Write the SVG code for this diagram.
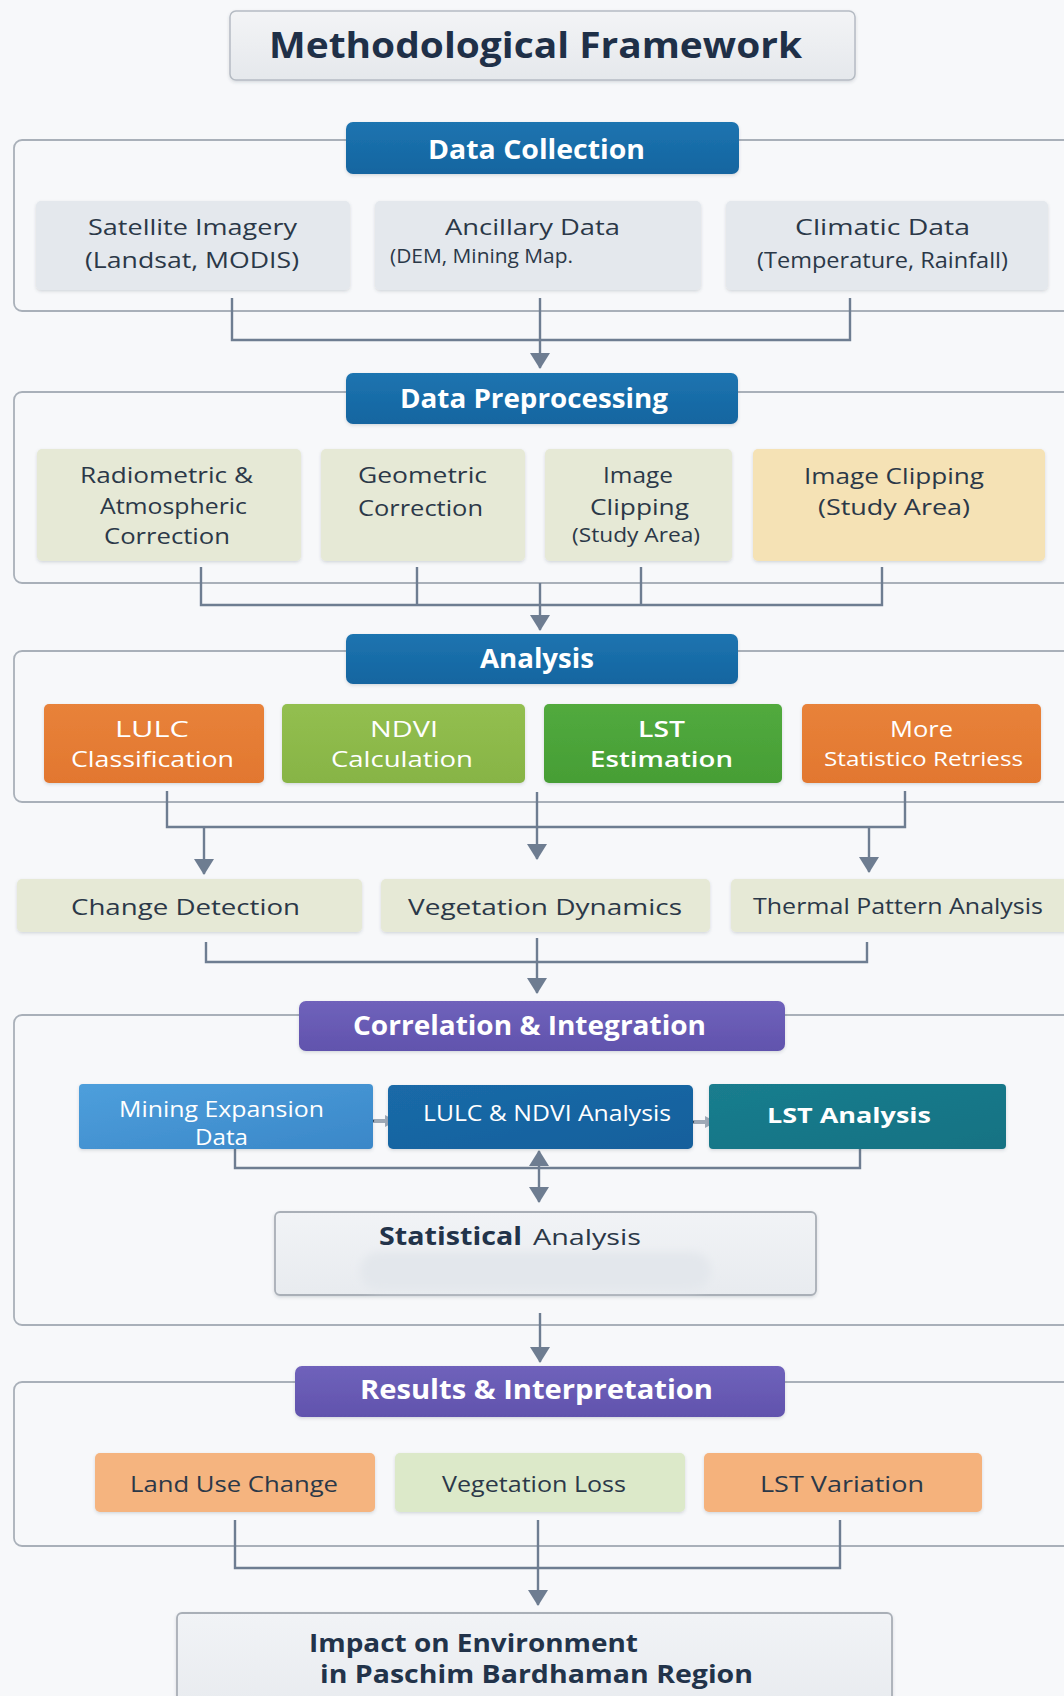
<svg xmlns="http://www.w3.org/2000/svg" width="1064" height="1696" viewBox="0 0 1064 1696">
  <defs>
    <style>
      text { font-family: "Open Sans", "Lato", "Liberation Sans", sans-serif; }
      .t-title { font-size: 36px; font-weight: 700; fill: #1f3048; }
      .t-head { font-size: 26px; font-weight: 700; fill: #ffffff; }
      .t-box { font-size: 22px; fill: #2b3848; }
      .t-small { font-size: 20px; fill: #2b3848; }
      .t-white { font-size: 22px; fill: #ffffff; }
      .t-white-s { font-size: 20px; fill: #ffffff; }
      .t-bold-dark { font-size: 25px; font-weight: 700; fill: #22334a; }
      .frame { fill: none; stroke: #a9b0b9; stroke-width: 1.8; }
      .wire { fill: none; stroke: #6e7d91; stroke-width: 2.4; }
      .gray { fill: #e4e8ed; }
      .olive { fill: #e6e9d6; }
      .tan { fill: #f5e2b5; }
      .blue-h { fill: url(#gBlue); }
      .purple-h { fill: url(#gPurple); }
      .node-shadow { filter: url(#shadow); }
    </style>
    <linearGradient id="gBlue" x1="0" y1="0" x2="0" y2="1">
      <stop offset="0" stop-color="#1d74b0"/>
      <stop offset="1" stop-color="#1465a0"/>
    </linearGradient>
    <linearGradient id="gPurple" x1="0" y1="0" x2="0" y2="1">
      <stop offset="0" stop-color="#6f62bb"/>
      <stop offset="1" stop-color="#6153ad"/>
    </linearGradient>
    <linearGradient id="gTitle" x1="0" y1="0" x2="0" y2="1">
      <stop offset="0" stop-color="#f3f4f6"/>
      <stop offset="1" stop-color="#e5e8ec"/>
    </linearGradient>
    <linearGradient id="gOrange" x1="0" y1="0" x2="0" y2="1">
      <stop offset="0" stop-color="#e8823a"/>
      <stop offset="1" stop-color="#e2772f"/>
    </linearGradient>
    <linearGradient id="gLime" x1="0" y1="0" x2="0" y2="1">
      <stop offset="0" stop-color="#93bf50"/>
      <stop offset="1" stop-color="#87b445"/>
    </linearGradient>
    <linearGradient id="gGreen" x1="0" y1="0" x2="0" y2="1">
      <stop offset="0" stop-color="#52aa3e"/>
      <stop offset="1" stop-color="#469e35"/>
    </linearGradient>
    <linearGradient id="gSky" x1="0" y1="0" x2="1" y2="1">
      <stop offset="0" stop-color="#4e9fdc"/>
      <stop offset="1" stop-color="#3a87c8"/>
    </linearGradient>
    <linearGradient id="gNavy" x1="0" y1="0" x2="1" y2="1">
      <stop offset="0" stop-color="#1a6aa8"/>
      <stop offset="1" stop-color="#16609c"/>
    </linearGradient>
    <linearGradient id="gTeal" x1="0" y1="0" x2="1" y2="1">
      <stop offset="0" stop-color="#1a7d8e"/>
      <stop offset="1" stop-color="#147283"/>
    </linearGradient>
    <linearGradient id="gPanel" x1="0" y1="0" x2="0" y2="1">
      <stop offset="0" stop-color="#f1f3f6"/>
      <stop offset="1" stop-color="#e8ebef"/>
    </linearGradient>
    <filter id="shadow" x="-10%" y="-20%" width="120%" height="150%">
      <feDropShadow dx="0" dy="1.5" stdDeviation="1.5" flood-color="#3a4656" flood-opacity="0.18"/>
    </filter>
    <filter id="soft" x="-10%" y="-50%" width="120%" height="200%">
      <feGaussianBlur stdDeviation="4"/>
    </filter>
    <marker id="arrow" markerUnits="userSpaceOnUse" markerWidth="16" markerHeight="20" viewBox="0 0 16 20" refX="15" refY="10" orient="auto">
      <path d="M0,0 L16,10 L0,20 z" fill="#6e7d91"/>
    </marker>
    <marker id="arrowStart" markerUnits="userSpaceOnUse" markerWidth="16" markerHeight="20" viewBox="0 0 16 20" refX="1" refY="10" orient="auto">
      <path d="M16,0 L0,10 L16,20 z" fill="#6e7d91"/>
    </marker>
    <marker id="tiny" markerUnits="userSpaceOnUse" markerWidth="11" markerHeight="12" viewBox="0 0 11 12" refX="10" refY="6" orient="auto">
      <path d="M0,0 L11,6 L0,12 z" fill="#9ea9b6"/>
    </marker>
  </defs>

  <rect x="0" y="0" width="1064" height="1696" fill="#f7f8fa"/>

  <!-- section frames -->
  <g id="frames">
    <rect class="frame" x="14" y="140" width="1070" height="171" rx="8"/>
    <rect class="frame" x="14" y="392" width="1070" height="191" rx="8"/>
    <rect class="frame" x="14" y="651" width="1070" height="151" rx="8"/>
    <rect class="frame" x="14" y="1015" width="1070" height="310" rx="8"/>
    <rect class="frame" x="14" y="1382" width="1070" height="164" rx="8"/>
  </g>

  <!-- connectors -->
  <g id="connectors">
    <path class="wire" d="M232,298 V340 H850 V298"/>
    <path class="wire" d="M540,298 V368" marker-end="url(#arrow)"/>

    <path class="wire" d="M201,567 V605 H882 V567 M417,567 V605 M641,567 V605"/>
    <path class="wire" d="M540,583 V630" marker-end="url(#arrow)"/>

    <path class="wire" d="M167,791 V827 H905 V791"/>
    <path class="wire" d="M204,827 V874" marker-end="url(#arrow)"/>
    <path class="wire" d="M869,827 V872" marker-end="url(#arrow)"/>
    <path class="wire" d="M537,792 V859" marker-end="url(#arrow)"/>

    <path class="wire" d="M206,942 V962 H867 V942"/>
    <path class="wire" d="M537,938 V993" marker-end="url(#arrow)"/>

    <path class="wire" d="M235,1149 V1168 H860 V1149"/>
    <path class="wire" d="M539,1151 V1202" marker-start="url(#arrowStart)" marker-end="url(#arrow)"/>

    <path d="M369,1121 H395" fill="none" stroke="#9ea9b6" stroke-width="4" marker-end="url(#tiny)"/>
    <path d="M367,1126 q2,-6 7,-5" fill="none" stroke="#2a4258" stroke-width="1.8"/>
    <path d="M689,1122 H715" fill="none" stroke="#9ea9b6" stroke-width="4" marker-end="url(#tiny)"/>
    <path d="M687,1127 q2,-6 7,-5" fill="none" stroke="#2a4258" stroke-width="1.8"/>

    <path class="wire" d="M540,1313 V1362" marker-end="url(#arrow)"/>

    <path class="wire" d="M235,1520 V1568 H840 V1520"/>
    <path class="wire" d="M538,1520 V1605" marker-end="url(#arrow)"/>
  </g>

  <!-- title -->
  <g id="title">
    <rect x="230" y="11" width="625" height="69" rx="6" fill="url(#gTitle)" stroke="#b5bbc3" stroke-width="1.5" class="node-shadow"/>
    <text class="t-title" x="269" y="58" textLength="533" lengthAdjust="spacingAndGlyphs">Methodological Framework</text>
  </g>

  <!-- Data Collection -->
  <g id="data-collection">
    <rect class="blue-h node-shadow" x="346" y="122" width="393" height="52" rx="7"/>
    <text class="t-head" x="428" y="159" textLength="217" lengthAdjust="spacingAndGlyphs">Data Collection</text>
  </g>
  <g id="satellite-imagery">
    <rect class="gray node-shadow" x="36" y="201" width="314" height="89" rx="5"/>
    <text class="t-box" x="88" y="235" textLength="209" lengthAdjust="spacingAndGlyphs">Satellite Imagery</text>
    <text class="t-box" x="85" y="268" textLength="214" lengthAdjust="spacingAndGlyphs">(Landsat, MODIS)</text>
  </g>
  <g id="ancillary-data">
    <rect class="gray node-shadow" x="375" y="201" width="326" height="89" rx="5"/>
    <text class="t-box" x="445" y="235" textLength="175" lengthAdjust="spacingAndGlyphs">Ancillary Data</text>
    <text class="t-small" x="390" y="263" textLength="183" lengthAdjust="spacingAndGlyphs">(DEM, Mining Map.</text>
  </g>
  <g id="climatic-data">
    <rect class="gray node-shadow" x="726" y="201" width="322" height="89" rx="5"/>
    <text class="t-box" x="795" y="235" textLength="175" lengthAdjust="spacingAndGlyphs">Climatic Data</text>
    <text class="t-box" x="757" y="268" textLength="251" lengthAdjust="spacingAndGlyphs">(Temperature, Rainfall)</text>
  </g>

  <!-- Data Preprocessing -->
  <g id="data-preprocessing">
    <rect class="blue-h node-shadow" x="346" y="373" width="392" height="51" rx="7"/>
    <text class="t-head" x="400" y="408" textLength="268" lengthAdjust="spacingAndGlyphs">Data Preprocessing</text>
  </g>
  <g id="radiometric">
    <rect class="olive node-shadow" x="37" y="449" width="264" height="112" rx="5"/>
    <text class="t-box" x="80" y="483" textLength="173" lengthAdjust="spacingAndGlyphs">Radiometric &amp;</text>
    <text class="t-box" x="100" y="514" textLength="147" lengthAdjust="spacingAndGlyphs">Atmospheric</text>
    <text class="t-box" x="104" y="544" textLength="126" lengthAdjust="spacingAndGlyphs">Correction</text>
  </g>
  <g id="geometric">
    <rect class="olive node-shadow" x="321" y="449" width="204" height="112" rx="5"/>
    <text class="t-box" x="358" y="483" textLength="129" lengthAdjust="spacingAndGlyphs">Geometric</text>
    <text class="t-box" x="358" y="516" textLength="125" lengthAdjust="spacingAndGlyphs">Correction</text>
  </g>
  <g id="image-clipping">
    <rect class="olive node-shadow" x="545" y="449" width="187" height="112" rx="5"/>
    <text class="t-box" x="603" y="483" textLength="70" lengthAdjust="spacingAndGlyphs">Image</text>
    <text class="t-box" x="590" y="515" textLength="99" lengthAdjust="spacingAndGlyphs">Clipping</text>
    <text class="t-small" x="572" y="542" textLength="128" lengthAdjust="spacingAndGlyphs">(Study Area)</text>
  </g>
  <g id="image-clipping-study-area">
    <rect class="tan node-shadow" x="753" y="449" width="292" height="112" rx="5"/>
    <text class="t-box" x="804" y="484" textLength="180" lengthAdjust="spacingAndGlyphs">Image Clipping</text>
    <text class="t-box" x="818" y="515" textLength="152" lengthAdjust="spacingAndGlyphs">(Study Area)</text>
  </g>

  <!-- Analysis -->
  <g id="analysis">
    <rect class="blue-h node-shadow" x="346" y="634" width="392" height="50" rx="7"/>
    <text class="t-head" x="480" y="668" textLength="114" lengthAdjust="spacingAndGlyphs">Analysis</text>
  </g>
  <g id="lulc-classification">
    <rect class="node-shadow" x="44" y="704" width="220" height="79" rx="5" fill="url(#gOrange)"/>
    <text class="t-white" x="115" y="737" textLength="74" lengthAdjust="spacingAndGlyphs">LULC</text>
    <text class="t-white" x="71" y="767" textLength="163" lengthAdjust="spacingAndGlyphs">Classification</text>
  </g>
  <g id="ndvi-calculation">
    <rect class="node-shadow" x="282" y="704" width="243" height="79" rx="5" fill="url(#gLime)"/>
    <text class="t-white" x="370" y="737" textLength="68" lengthAdjust="spacingAndGlyphs">NDVI</text>
    <text class="t-white" x="331" y="767" textLength="142" lengthAdjust="spacingAndGlyphs">Calculation</text>
  </g>
  <g id="lst-estimation">
    <rect class="node-shadow" x="544" y="704" width="238" height="79" rx="5" fill="url(#gGreen)"/>
    <text class="t-white" x="638" y="737" font-weight="600" textLength="47" lengthAdjust="spacingAndGlyphs">LST</text>
    <text class="t-white" x="590" y="767" font-weight="600" textLength="143" lengthAdjust="spacingAndGlyphs">Estimation</text>
  </g>
  <g id="more-statistics">
    <rect class="node-shadow" x="802" y="704" width="239" height="79" rx="5" fill="url(#gOrange)"/>
    <text class="t-white" x="890" y="737" textLength="63" lengthAdjust="spacingAndGlyphs">More</text>
    <text class="t-white-s" x="824" y="766" textLength="199" lengthAdjust="spacingAndGlyphs">Statistico Retriess</text>
  </g>

  <g id="change-detection">
    <rect class="olive node-shadow" x="17" y="879" width="345" height="53" rx="5"/>
    <text class="t-box" x="71" y="915" font-size="24" textLength="229" lengthAdjust="spacingAndGlyphs">Change Detection</text>
  </g>
  <g id="vegetation-dynamics">
    <rect class="olive node-shadow" x="381" y="879" width="329" height="53" rx="5"/>
    <text class="t-box" x="408" y="915" font-size="24" textLength="274" lengthAdjust="spacingAndGlyphs">Vegetation Dynamics</text>
  </g>
  <g id="thermal-pattern-analysis">
    <rect class="olive node-shadow" x="731" y="879" width="345" height="53" rx="5"/>
    <text class="t-box" x="753" y="914" font-size="21" textLength="290" lengthAdjust="spacingAndGlyphs">Thermal Pattern Analysis</text>
  </g>

  <!-- Correlation & Integration -->
  <g id="correlation-integration">
    <rect class="purple-h node-shadow" x="299" y="1001" width="486" height="50" rx="7"/>
    <text class="t-head" x="353" y="1035" textLength="353" lengthAdjust="spacingAndGlyphs">Correlation &amp; Integration</text>
  </g>
  <g id="mining-expansion-data">
    <rect class="node-shadow" x="79" y="1084" width="294" height="65" rx="4" fill="url(#gSky)"/>
    <text class="t-white" x="119" y="1117" font-size="20" textLength="205" lengthAdjust="spacingAndGlyphs">Mining Expansion</text>
    <text class="t-white" x="195" y="1145" font-size="20" textLength="53" lengthAdjust="spacingAndGlyphs">Data</text>
  </g>
  <g id="lulc-ndvi-analysis">
    <rect class="node-shadow" x="388" y="1085" width="305" height="64" rx="5" fill="url(#gNavy)"/>
    <text class="t-white" x="423" y="1121" font-size="20" textLength="248" lengthAdjust="spacingAndGlyphs">LULC &amp; NDVI Analysis</text>
  </g>
  <g id="lst-analysis">
    <rect class="node-shadow" x="709" y="1084" width="297" height="65" rx="4" fill="url(#gTeal)"/>
    <text class="t-white" x="767" y="1123" font-size="24" font-weight="700" textLength="164" lengthAdjust="spacingAndGlyphs">LST Analysis</text>
  </g>
  <g id="statistical-analysis">
    <rect x="275" y="1212" width="541" height="83" rx="5" fill="url(#gPanel)" stroke="#a9afb7" stroke-width="1.8" class="node-shadow"/>
    <rect x="360" y="1252" width="351" height="38" rx="19" fill="#e3e7ec" filter="url(#soft)"/>
    <text class="t-bold-dark" x="379" y="1245" textLength="143" lengthAdjust="spacingAndGlyphs">Statistical</text>
    <text class="t-box" x="533" y="1245" font-size="25" textLength="108" lengthAdjust="spacingAndGlyphs">Analysis</text>
  </g>

  <!-- Results & Interpretation -->
  <g id="results-interpretation">
    <rect class="purple-h node-shadow" x="295" y="1366" width="490" height="51" rx="7"/>
    <text class="t-head" x="360" y="1399" textLength="353" lengthAdjust="spacingAndGlyphs">Results &amp; Interpretation</text>
  </g>
  <g id="land-use-change">
    <rect class="node-shadow" x="95" y="1453" width="280" height="59" rx="5" fill="#f5b47f"/>
    <text class="t-box" x="130" y="1492" textLength="208" lengthAdjust="spacingAndGlyphs">Land Use Change</text>
  </g>
  <g id="vegetation-loss">
    <rect class="node-shadow" x="395" y="1453" width="290" height="59" rx="5" fill="#dce9c9"/>
    <text class="t-box" x="442" y="1492" textLength="184" lengthAdjust="spacingAndGlyphs">Vegetation Loss</text>
  </g>
  <g id="lst-variation">
    <rect class="node-shadow" x="704" y="1453" width="278" height="59" rx="5" fill="#f5b27c"/>
    <text class="t-box" x="760" y="1492" textLength="164" lengthAdjust="spacingAndGlyphs">LST Variation</text>
  </g>

  <g id="impact">
    <rect x="177" y="1613" width="715" height="100" rx="5" fill="url(#gPanel)" stroke="#a9afb7" stroke-width="1.8" class="node-shadow"/>
    <text class="t-bold-dark" x="309" y="1652" textLength="329" lengthAdjust="spacingAndGlyphs">Impact on Environment</text>
    <text class="t-bold-dark" x="320" y="1683" textLength="433" lengthAdjust="spacingAndGlyphs">in Paschim Bardhaman Region</text>
  </g>
</svg>
